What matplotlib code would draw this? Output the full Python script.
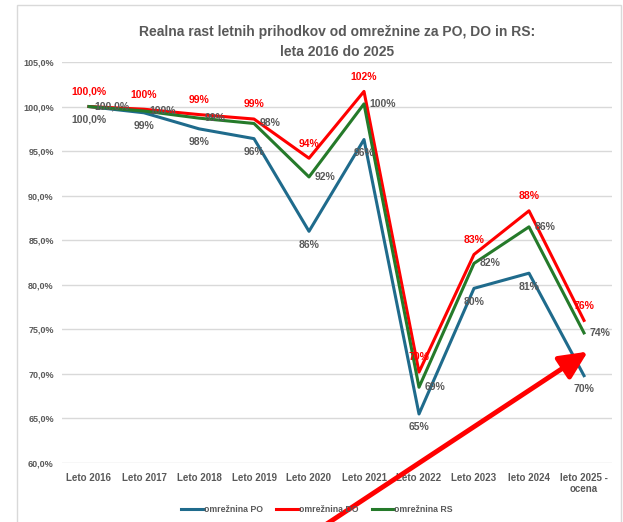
import matplotlib
matplotlib.use("Agg")
import matplotlib.pyplot as plt
from matplotlib.patches import Rectangle
from matplotlib.ticker import FuncFormatter

plt.rcParams["font.family"] = ["Liberation Sans Narrow", "Liberation Sans", "DejaVu Sans"]

# podatki
leta = ["Leto 2016", "Leto 2017", "Leto 2018", "Leto 2019", "Leto 2020",
        "Leto 2021", "Leto 2022", "Leto 2023", "leto 2024", "leto 2025 -\nocena"]
omr_po = [100.0, 99.3, 97.5, 96.4, 86.0, 96.3, 65.5, 79.6, 81.3, 69.8]
omr_do = [100.0, 99.7, 99.1, 98.6, 94.2, 101.7, 70.2, 83.4, 88.3, 76.0]
omr_rs = [100.0, 99.5, 98.7, 98.1, 92.1, 100.3, 68.5, 82.4, 86.5, 74.6]
lbl_po = ["100,0%", "99%", "98%", "96%", "86%", "96%", "65%", "80%", "81%", "70%"]
lbl_do = ["100,0%", "100%", "99%", "99%", "94%", "102%", "70%", "83%", "88%", "76%"]
lbl_rs = ["100,0%", "100%", "99%", "98%", "92%", "100%", "69%", "82%", "86%", "74%"]
y_ticks = [60, 65, 70, 75, 80, 85, 90, 95, 100, 105]

C_PO = "#1f6b8c"
C_DO = "#ff0000"
C_RS = "#257a2a"
GRAY = "#595959"

W, H = 623, 522
fig = plt.figure(figsize=(W / 100, H / 100), dpi=100)
ax = fig.add_axes([61.5 / W, 1 - 463 / H, 550 / W, 401 / H])

# okvir grafikona
fig.patches.append(Rectangle((17 / W, -0.05), (621 - 17) / W, 1.05 - 5 / H,
                             transform=fig.transFigure, fill=False,
                             edgecolor="#d9d9d9", linewidth=1, zorder=0))

x = list(range(len(leta)))
ax.plot(x, omr_po, color=C_PO, lw=2.2, label="omrežnina PO", zorder=3)
ax.plot(x, omr_do, color=C_DO, lw=2.2, label="omrežnina DO", zorder=3)
ax.plot(x, omr_rs, color=C_RS, lw=2.2, label="omrežnina RS", zorder=3)

# oznake podatkov
for i in x:
    ax.annotate(lbl_do[i], (i, omr_do[i]), xytext=(0, 7), textcoords="offset points",
                ha="center", va="bottom", color=C_DO, fontsize=7.5, fontweight="bold")
    ax.annotate(lbl_rs[i], (i, omr_rs[i]), xytext=(4, 0), textcoords="offset points",
                ha="left", va="center", color=GRAY, fontsize=7.5, fontweight="bold")
    ax.annotate(lbl_po[i], (i, omr_po[i]), xytext=(0, -6), textcoords="offset points",
                ha="center", va="top", color=GRAY, fontsize=7.5, fontweight="bold")

ax.set_xlim(-0.5, len(leta) - 0.5)
ax.set_ylim(60, 105)
ax.set_yticks(y_ticks)
ax.yaxis.set_major_formatter(FuncFormatter(lambda v, p: f"{v:.1f}%".replace(".", ",")))
ax.set_xticks(x)
ax.set_xticklabels(leta)
ax.tick_params(axis="both", length=0, colors=GRAY)
ax.tick_params(axis="y", labelsize=6.5, pad=5.5)
ax.tick_params(axis="x", labelsize=7, pad=7)
for t in ax.get_xticklabels():
    t.set_fontweight("bold")
for t in ax.get_yticklabels():
    t.set_fontweight("bold")
ax.grid(axis="y", color="#d9d9d9", lw=1)
ax.set_axisbelow(True)
for s in ax.spines.values():
    s.set_visible(False)

fig.text(0.541, 1 - 25 / H, "Realna rast letnih prihodkov od omrežnine za PO, DO in RS:\nleta 2016 do 2025",
         ha="center", va="top", fontsize=10, fontweight="bold", color=GRAY, linespacing=1.5)

leg = ax.legend(loc="center", bbox_to_anchor=(0.465, -0.115), ncol=3, frameon=False,
                fontsize=6.3, handlelength=2.6, handletextpad=0.0, columnspacing=1.5)
for t in leg.get_texts():
    t.set_color(GRAY)
    t.set_fontweight("bold")

# rdeča puščica
ax.annotate("", xy=(9.07, 72.5), xytext=(4.16, 52.5), xycoords="data",
            annotation_clip=False,
            arrowprops=dict(arrowstyle="-|>,head_length=1.7,head_width=0.8",
                            color=C_DO, lw=3.5, shrinkA=0, shrinkB=0), zorder=5)

fig.savefig("out.png", dpi=100)
